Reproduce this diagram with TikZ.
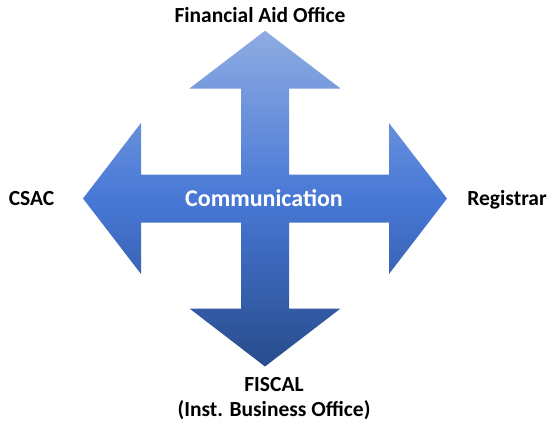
\documentclass[tikz,border=0pt]{standalone}
\usepackage{fontspec}
\setmainfont{Carlito}
\definecolor{topblue}{RGB}{143,172,226}
\definecolor{midblue}{RGB}{72,120,214}
\definecolor{botblue}{RGB}{40,76,140}
\pgfdeclareverticalshading{arrowshade}{100bp}{color(0bp)=(botblue); color(25bp)=(botblue); color(50bp)=(midblue); color(75bp)=(topblue); color(100bp)=(topblue)}
\begin{document}
\begin{tikzpicture}[x=1pt,y=-1pt,
  lbl/.style={font=\fontsize{21.5}{26}\selectfont\bfseries, text=black, anchor=base, inner sep=0pt},
  centerlbl/.style={font=\fontsize{24}{28}\selectfont\bfseries, text=white, anchor=base, inner sep=0pt}]
\useasboundingbox (0,0) rectangle (549,426);
\shade[shading=arrowshade]
  (265,30.7) -- (340.5,88.5) -- (289,88.5) -- (289,174.5) -- (389,174.5) -- (389,123)
  -- (447,198.5) -- (389,274) -- (389,222.5) -- (289,222.5) -- (289,308.5) -- (340.5,308.5)
  -- (265,366.5) -- (189.5,308.5) -- (241,308.5) -- (241,222.5) -- (141,222.5) -- (141,274)
  -- (83,198.5) -- (141,123) -- (141,174.5) -- (241,174.5) -- (241,88.5) -- (189.5,88.5) -- cycle;
\node[centerlbl] (comm) at (264,206) {Communication};
\node[lbl] (fao) at (260,22) {Financial Aid Office};
\node[lbl] (csac) at (31.5,205) {CSAC};
\node[lbl] (reg) at (507,205) {Registrar};
\node[lbl] (fiscal) at (274,391) {FISCAL};
\node[lbl] (ibo) at (274,416) {(Inst. Business Office)};
\end{tikzpicture}
\end{document}
